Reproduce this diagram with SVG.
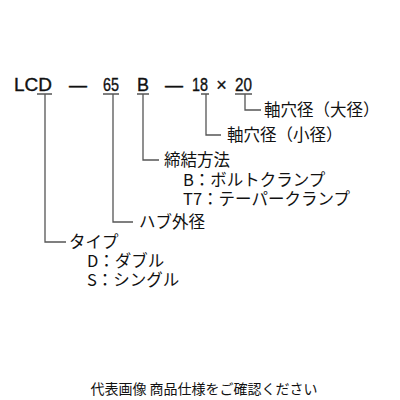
<svg xmlns="http://www.w3.org/2000/svg" width="400" height="400" viewBox="0 0 400 400">
<style>
.code{font-family:"Liberation Sans",Arial,sans-serif;font-size:18px;fill:#111;stroke:#111;stroke-width:0.35}
.jp{font-family:"Noto Sans CJK JP","Noto Sans",sans-serif;font-size:16.5px;fill:#111}
.note{font-family:"Noto Sans CJK JP","Noto Sans",sans-serif;font-size:14px;fill:#111}
.ln{fill:none;stroke:#555;stroke-width:1.3}
</style>
<rect width="400" height="400" fill="#fff"/>
<g id="code">
<text class="code" x="14" y="91" textLength="38" lengthAdjust="spacingAndGlyphs">LCD</text>
<text class="code" x="78" y="91" text-anchor="middle">—</text>
<text class="code" x="103" y="91" textLength="16" lengthAdjust="spacingAndGlyphs">65</text>
<text class="code" x="137" y="91" textLength="12" lengthAdjust="spacingAndGlyphs">B</text>
<text class="code" x="174" y="91" text-anchor="middle">—</text>
<text class="code" x="192" y="91" textLength="16" lengthAdjust="spacingAndGlyphs">18</text>
<text class="code" x="221.5" y="91" text-anchor="middle">×</text>
<text class="code" x="235" y="91" textLength="17" lengthAdjust="spacingAndGlyphs">20</text>
</g>
<g id="connectors">
<path class="ln" d="M37 94H52M45 94V242H66"/>
<path class="ln" d="M103 94H119M113 94V222H133"/>
<path class="ln" d="M137 94H149M143 94V160H159"/>
<path class="ln" d="M201 94H209M206 94V135H221"/>
<path class="ln" d="M235 94H252M245 94V110H261"/>
</g>
<g id="large-bore">
<text class="jp" x="264" y="116">軸穴径（大径）</text>
</g>
<g id="small-bore">
<text class="jp" x="227" y="141">軸穴径（小径）</text>
</g>
<g id="fastening">
<text class="jp" x="164" y="166">締結方法</text>
<text class="jp" x="183" y="186">B：ボルトクランプ</text>
<text class="jp" x="183" y="205">T7：テーパークランプ</text>
</g>
<g id="hub">
<text class="jp" x="139" y="228">ハブ外径</text>
</g>
<g id="type">
<text class="jp" x="69" y="248">タイプ</text>
<text class="jp" x="87" y="267">D：ダブル</text>
<text class="jp" x="87" y="286">S：シングル</text>
</g>
<text class="note" x="204" y="394" text-anchor="middle">代表画像 商品仕様をご確認ください</text>
</svg>
